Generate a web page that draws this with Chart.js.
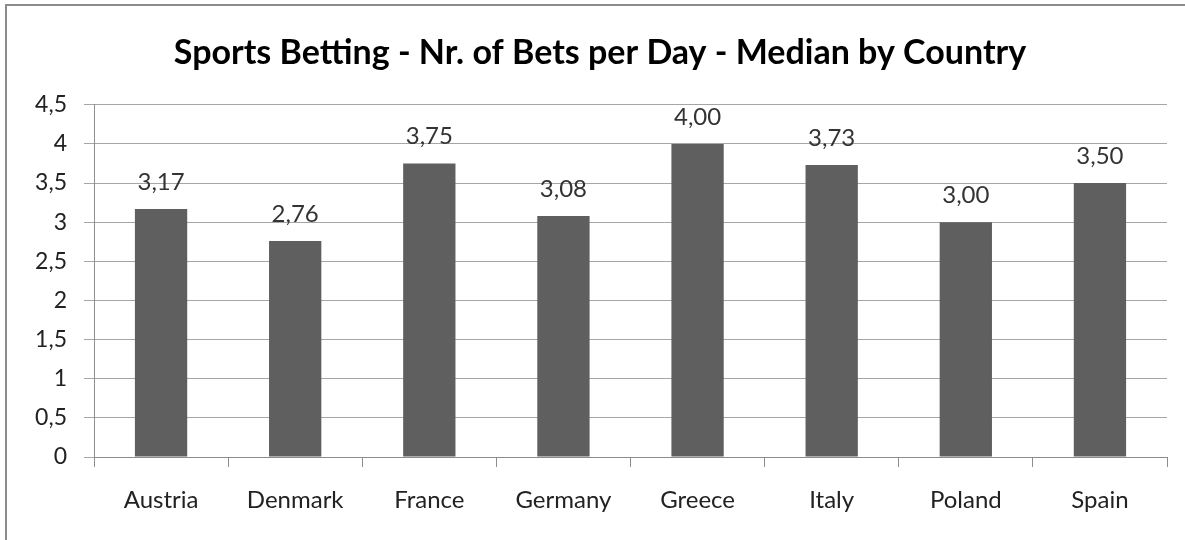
<!DOCTYPE html>
<html>
<head>
<meta charset="utf-8">
<script src="https://cdn.jsdelivr.net/npm/chart.js@4"></script>
<style>
  html, body { margin: 0; padding: 0; background: #fff; overflow: hidden; }
  #frame {
    position: absolute; left: 5px; top: 4px;
    width: 1200px; height: 560px;
    border: 2px solid #8c8c8c;
  }
  #wrap { position: absolute; left: 0; top: 0; width: 1185px; height: 540px; }
</style>
</head>
<body>
<div id="frame"></div>
<div id="wrap"><canvas id="chart"></canvas></div>
<script>
var countries = ['Austria', 'Denmark', 'France', 'Germany', 'Greece', 'Italy', 'Poland', 'Spain'];
var betsPerDay = [3.17, 2.76, 3.75, 3.08, 4.00, 3.73, 3.00, 3.50];
var yTicks = [0, 0.5, 1, 1.5, 2, 2.5, 3, 3.5, 4, 4.5];

var fontName = 'Lato, "Noto Sans", sans-serif';

function comma(v, digits) {
    return v.toFixed(digits).replace('.', ',');
}

// draws the value above each bar, like the excel data labels
var valueLabels = {
    id: 'valueLabels',
    afterDatasetsDraw: function(chart) {
        var ctx = chart.ctx;
        var meta = chart.getDatasetMeta(0);
        ctx.save();
        ctx.font = '24px ' + fontName;
        ctx.fillStyle = '#333333';
        ctx.textAlign = 'center';
        ctx.textBaseline = 'bottom';
        meta.data.forEach(function(bar, i) {
            ctx.fillText(comma(betsPerDay[i], 2), bar.x, bar.y - 15);
        });
        ctx.restore();
    }
};

var ctx = document.getElementById('chart').getContext('2d');
var chart = new Chart(ctx, {
    type: 'bar',
    data: {
        labels: countries,
        datasets: [{
            data: betsPerDay,
            backgroundColor: '#5f5f5f',
            borderWidth: 0,
            barPercentage: 0.39 / 0.8,
            categoryPercentage: 0.8
        }]
    },
    options: {
        responsive: true,
        maintainAspectRatio: false,
        animation: false,
        layout: { padding: { left: 33, right: 18, top: 0, bottom: 0 } },
        plugins: {
            legend: { display: false },
            tooltip: { enabled: false },
            title: {
                display: true,
                text: 'Sports Betting - Nr. of Bets per Day - Median by Country',
                color: '#000',
                font: { family: fontName, size: 34, weight: 'bold' },
                padding: { top: 33, bottom: 31 }
            }
        },
        scales: {
            x: {
                afterFit: function(scale) { scale.height = 83; },
                grid: {
                    display: true,
                    drawOnChartArea: false,
                    drawTicks: true,
                    tickLength: 10,
                    color: '#8c8c8c'
                },
                border: { color: '#8c8c8c' },
                ticks: {
                    color: '#222',
                    padding: 19,
                    font: { family: fontName, size: 24 }
                }
            },
            y: {
                min: 0,
                max: 4.5,
                afterBuildTicks: function(scale) {
                    scale.ticks = yTicks.map(function(v) { return { value: v }; });
                },
                afterFit: function(scale) { scale.width = 61; },
                grid: {
                    color: '#a6a6a6',
                    tickLength: 10
                },
                border: { color: '#8c8c8c' },
                ticks: {
                    color: '#222',
                    padding: 17,
                    font: { family: fontName, size: 23 },
                    callback: function(v) { return String(v).replace('.', ','); }
                }
            }
        }
    },
    plugins: [valueLabels]
});
</script>
</body>
</html>
